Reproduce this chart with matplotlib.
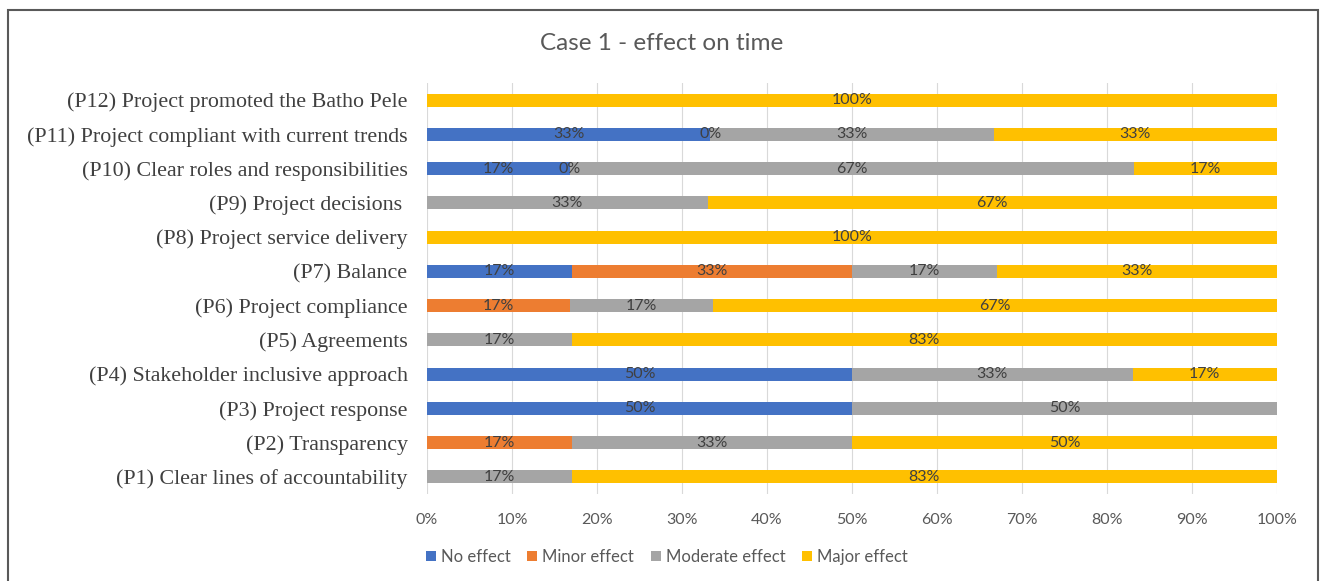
import numpy as np
import matplotlib
matplotlib.use("Agg")
import matplotlib.pyplot as plt
from matplotlib.patches import Rectangle

# Survey items (bottom to top) and response shares in percent.
# nan = no response entered for that category; 0 = explicitly recorded zero.
categories = [
    "(P1) Clear lines of accountability",
    "(P2) Transparency",
    "(P3) Project response",
    "(P4) Stakeholder inclusive approach",
    "(P5) Agreements",
    "(P6) Project compliance",
    "(P7) Balance",
    "(P8) Project service delivery",
    "(P9) Project decisions ",
    "(P10) Clear roles and responsibilities",
    "(P11) Project compliant with current trends",
    "(P12) Project promoted the Batho Pele",
]
nan = np.nan
no_effect = [nan, nan, 50, 50, nan, nan, 17, nan, nan, 17, 33, nan]
minor_effect = [nan, 17, nan, nan, nan, 17, 33, nan, nan, 0, 0, nan]
moderate_effect = [17, 33, 50, 33, 17, 17, 17, nan, 33, 67, 33, nan]
major_effect = [83, 50, nan, 17, 83, 67, 33, 100, 67, 17, 33, 100]

series_names = ["No effect", "Minor effect", "Moderate effect", "Major effect"]
series_colors = ["#4472C4", "#ED7D31", "#A5A5A5", "#FFC000"]
x_ticks = [0, 10, 20, 30, 40, 50, 60, 70, 80, 90, 100]

sans = ["Lato", "DejaVu Sans"]
serif = ["Liberation Serif", "DejaVu Serif"]

data = np.array([no_effect, minor_effect, moderate_effect, major_effect], dtype=float)
totals = np.nansum(data, axis=0)
shares = np.nan_to_num(data) / totals * 100.0  # 100% stacked

fig = plt.figure(figsize=(13.24, 5.81), dpi=100)
ax = fig.add_axes([427 / 1324, 1 - 494 / 581, 850 / 1324, 411 / 581])

y = np.arange(len(categories))
left = np.zeros(len(categories))
for i, (name, color) in enumerate(zip(series_names, series_colors)):
    ax.barh(y, shares[i], left=left, height=0.38, color=color, label=name, zorder=2)
    for j in range(len(categories)):
        raw = data[i, j]
        if not np.isnan(raw):
            ax.text(left[j] + shares[i, j] / 2, y[j], f"{raw:.0f}%",
                    ha="center", va="center", fontsize=11.5, color="#404040",
                    family=sans, zorder=3)
    left += shares[i]

ax.set_xlim(0, 100)
ax.set_ylim(-0.5, len(categories) - 0.5)
ax.set_xticks(x_ticks)
ax.set_xticklabels([f"{t}%" for t in x_ticks], fontsize=11.5, color="#595959", family=sans)
ax.set_yticks(y)
ax.set_yticklabels(categories, fontsize=15.8, color="#404040", family=serif)
ax.tick_params(axis="both", length=0)
ax.tick_params(axis="x", pad=14)
ax.tick_params(axis="y", pad=14)
ax.grid(axis="x", color="#D9D9D9", linewidth=0.8, zorder=0)
for s in ax.spines.values():
    s.set_visible(False)

fig.text(0.5, 1 - 43 / 581, "Case 1 - effect on time", ha="center", va="center",
         fontsize=17.5, color="#595959", family=sans)

handles, labels = ax.get_legend_handles_labels()
fig.legend(handles, labels, loc="center", bbox_to_anchor=(667 / 1324, 1 - 557 / 581),
           ncol=4, frameon=False, handlelength=0.6, handleheight=0.6,
           handletextpad=0.3, columnspacing=1.0,
           prop={"family": sans, "size": 12}, labelcolor="#595959")

# outer chart border
fig.add_artist(Rectangle((8 / 1324, -0.05), 1310 / 1324, 1.05 - 10 / 581,
                         transform=fig.transFigure, fill=False,
                         edgecolor="#595959", linewidth=1.5, clip_on=False))

fig.savefig("out.png", dpi=100, facecolor="white")
